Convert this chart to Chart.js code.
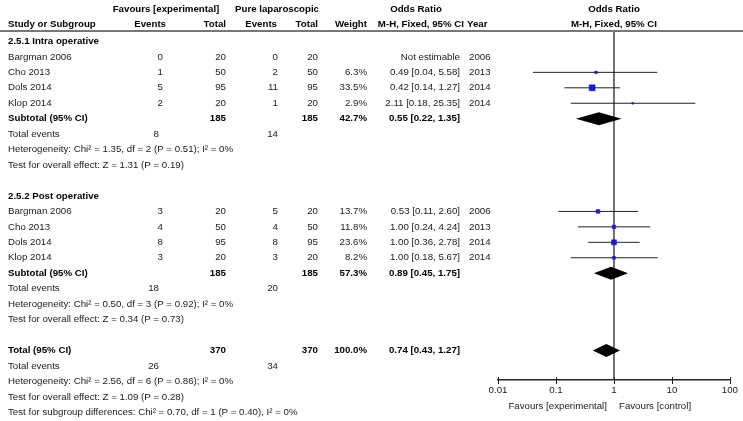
<!DOCTYPE html>
<html>
<head>
<meta charset="utf-8">
<script src="https://cdn.jsdelivr.net/npm/chart.js@4.4.0/dist/chart.umd.min.js"></script>
<style>
  html, body { margin: 0; padding: 0; background: #fff; }
  canvas { display: block; }
</style>
</head>
<body>
<canvas id="forest" width="743" height="421"></canvas>
<script>
const studies = ['Bargman 2006', 'Cho 2013', 'Dols 2014', 'Klop 2014'];
const years = ['2006', '2013', '2014', '2014'];
const groupSizes = [20, 50, 95, 20];

const intraExpEvents = [0, 1, 5, 2];
const intraCtrlEvents = [0, 2, 11, 1];
const intraWeights = [null, 6.3, 33.5, 2.9];
const intraOR = [null, 0.49, 0.42, 2.11];
const intraLow = [null, 0.04, 0.14, 0.18];
const intraHigh = [null, 5.58, 1.27, 25.35];

const postExpEvents = [3, 4, 8, 3];
const postCtrlEvents = [5, 4, 8, 3];
const postWeights = [13.7, 11.8, 23.6, 8.2];
const postOR = [0.53, 1.00, 1.00, 1.00];
const postLow = [0.11, 0.24, 0.36, 0.18];
const postHigh = [2.60, 4.24, 2.78, 5.67];

// pooled rows: intra subtotal, post subtotal, overall total
const pooledOR = [0.55, 0.89, 0.74];
const pooledLow = [0.22, 0.45, 0.43];
const pooledHigh = [1.35, 1.75, 1.27];
const pooledWeights = [42.7, 57.3, 100.0];
const pooledTotals = [185, 185, 370];
const totalExpEvents = [8, 18, 26];
const totalCtrlEvents = [14, 20, 34];
const heterogeneity = [
  'Heterogeneity: Chi² = 1.35, df = 2 (P = 0.51); I² = 0%',
  'Heterogeneity: Chi² = 0.50, df = 3 (P = 0.92); I² = 0%',
  'Heterogeneity: Chi² = 2.56, df = 6 (P = 0.86); I² = 0%'
];
const overallEffect = [
  'Test for overall effect: Z = 1.31 (P = 0.19)',
  'Test for overall effect: Z = 0.34 (P = 0.73)',
  'Test for overall effect: Z = 1.09 (P = 0.28)'
];
const subgroupTest = 'Test for subgroup differences: Chi² = 0.70, df = 1 (P = 0.40), I² = 0%';

const xTicks = [0.01, 0.1, 1, 10, 100];

const groups = [
  {title: '2.5.1 Intra operative', row: 1, exp: intraExpEvents, ctl: intraCtrlEvents,
   w: intraWeights, or: intraOR, lo: intraLow, hi: intraHigh},
  {title: '2.5.2 Post operative', row: 11, exp: postExpEvents, ctl: postCtrlEvents,
   w: postWeights, or: postOR, lo: postLow, hi: postHigh}
];

// column anchors (px)
const COL = {study: 8, expEv: 163, expTot: 226, ctlEv: 278, ctlTot: 318, weight: 367, ci: 460, year: 469};
const FONT = '"Liberation Sans", Arial, sans-serif';
const FSIZE = 9.7;

function fmtCI(o, l, h) {
  return o.toFixed(2) + ' [' + l.toFixed(2) + ', ' + h.toFixed(2) + ']';
}

// datasets: markers first so they sit on top of the CI lines
const markerPts = [];
const markerRadius = [];
const ciSets = [];
groups.forEach(function(g) {
  studies.forEach(function(s, i) {
    if (g.or[i] === null) return;
    const r = g.row + 1 + i;
    markerPts.push({x: g.or[i], y: r});
    markerRadius.push(1.04 * Math.sqrt(g.w[i]) / Math.SQRT2);
    ciSets.push({
      data: [{x: g.lo[i], y: r}, {x: g.hi[i], y: r}],
      showLine: true, borderColor: '#222', borderWidth: 1, pointRadius: 0, clip: false
    });
  });
});

const datasets = [{
  data: markerPts,
  pointStyle: 'rect',
  pointRadius: markerRadius,
  backgroundColor: '#1c1ccc',
  borderColor: '#1c1ccc',
  borderWidth: 0.5
}].concat(ciSets).concat([{
  data: [{x: 1, y: 0.324}, {x: 1, y: 22.91}],
  showLine: true, borderColor: '#444', borderWidth: 1.5, pointRadius: 0, clip: false
}]);

function txt(ctx, s, x, y, align, bold) {
  ctx.font = (bold ? 'bold ' : '') + FSIZE + 'px ' + FONT;
  ctx.textAlign = align;
  ctx.fillStyle = bold ? '#000' : '#1a1a1a';
  ctx.fillText(s, x, y);
}

const tablePlugin = {
  id: 'table',
  afterDraw: function(chart) {
    const ctx = chart.ctx;
    const xs = chart.scales.x;
    const ys = chart.scales.y;
    const Y = function(r) { return ys.getPixelForValue(r); };
    ctx.save();
    ctx.textBaseline = 'middle';

    // header
    txt(ctx, 'Favours [experimental]', 166, Y(-1.1), 'center', true);
    txt(ctx, 'Pure laparoscopic', 235, Y(-1.1), 'left', true);
    txt(ctx, 'Odds Ratio', 416, Y(-1.1), 'center', true);
    txt(ctx, 'Odds Ratio', xs.getPixelForValue(1), Y(-1.1), 'center', true);
    txt(ctx, 'Study or Subgroup', COL.study, Y(-0.13), 'left', true);
    txt(ctx, 'Events', 166, Y(-0.13), 'right', true);
    txt(ctx, 'Total', COL.expTot, Y(-0.13), 'right', true);
    txt(ctx, 'Events', 277, Y(-0.13), 'right', true);
    txt(ctx, 'Total', COL.ctlTot, Y(-0.13), 'right', true);
    txt(ctx, 'Weight', COL.weight, Y(-0.13), 'right', true);
    txt(ctx, 'M-H, Fixed, 95% CI', 464, Y(-0.13), 'right', true);
    txt(ctx, 'Year', 467, Y(-0.13), 'left', true);
    txt(ctx, 'M-H, Fixed, 95% CI', xs.getPixelForValue(1), Y(-0.13), 'center', true);

    ctx.strokeStyle = '#777';
    ctx.lineWidth = 2;
    ctx.beginPath();
    ctx.moveTo(0, chart.chartArea.top);
    ctx.lineTo(743, chart.chartArea.top);
    ctx.stroke();

    function pooled(k, r, label) {
      txt(ctx, label, COL.study, Y(r), 'left', true);
      txt(ctx, String(pooledTotals[k]), COL.expTot, Y(r), 'right', true);
      txt(ctx, String(pooledTotals[k]), COL.ctlTot, Y(r), 'right', true);
      txt(ctx, pooledWeights[k].toFixed(1) + '%', COL.weight, Y(r), 'right', true);
      txt(ctx, fmtCI(pooledOR[k], pooledLow[k], pooledHigh[k]), COL.ci, Y(r), 'right', true);
      txt(ctx, 'Total events', COL.study, Y(r + 1), 'left', false);
      txt(ctx, String(totalExpEvents[k]), 159, Y(r + 1), 'right', false);
      txt(ctx, String(totalCtrlEvents[k]), 278, Y(r + 1), 'right', false);
      txt(ctx, heterogeneity[k], COL.study, Y(r + 2), 'left', false);
      txt(ctx, overallEffect[k], COL.study, Y(r + 3), 'left', false);
      // diamond
      const yc = Y(r), h = 6.5;
      ctx.fillStyle = '#000';
      ctx.beginPath();
      ctx.moveTo(xs.getPixelForValue(pooledLow[k]), yc);
      ctx.lineTo(xs.getPixelForValue(pooledOR[k]), yc - h);
      ctx.lineTo(xs.getPixelForValue(pooledHigh[k]), yc);
      ctx.lineTo(xs.getPixelForValue(pooledOR[k]), yc + h);
      ctx.closePath();
      ctx.fill();
    }

    groups.forEach(function(g, k) {
      txt(ctx, g.title, COL.study, Y(g.row), 'left', true);
      studies.forEach(function(s, i) {
        const y = Y(g.row + 1 + i);
        txt(ctx, s, COL.study, y, 'left', false);
        txt(ctx, String(g.exp[i]), COL.expEv, y, 'right', false);
        txt(ctx, String(groupSizes[i]), COL.expTot, y, 'right', false);
        txt(ctx, String(g.ctl[i]), COL.ctlEv, y, 'right', false);
        txt(ctx, String(groupSizes[i]), COL.ctlTot, y, 'right', false);
        if (g.or[i] === null) {
          txt(ctx, 'Not estimable', COL.ci, y, 'right', false);
        } else {
          txt(ctx, g.w[i].toFixed(1) + '%', COL.weight, y, 'right', false);
          txt(ctx, fmtCI(g.or[i], g.lo[i], g.hi[i]), COL.ci, y, 'right', false);
        }
        txt(ctx, years[i], COL.year, y, 'left', false);
      });
      pooled(k, g.row + 5, 'Subtotal (95% CI)');
    });
    pooled(2, 21, 'Total (95% CI)');
    txt(ctx, subgroupTest, COL.study, Y(25), 'left', false);

    // axis tick marks crossing the axis line
    const yb = chart.chartArea.bottom;
    ctx.strokeStyle = '#222';
    ctx.lineWidth = 1;
    xs.ticks.forEach(function(t) {
      const px = Math.round(xs.getPixelForValue(t.value)) + 0.5;
      ctx.beginPath();
      ctx.moveTo(px, yb - 3);
      ctx.lineTo(px, yb + 4);
      ctx.stroke();
    });
    const p1 = xs.getPixelForValue(1);
    txt(ctx, 'Favours [experimental]', p1 - 7, 406, 'right', false);
    txt(ctx, 'Favours [control]', p1 + 5, 406, 'left', false);
    ctx.restore();
  }
};

new Chart(document.getElementById('forest'), {
  type: 'scatter',
  data: {datasets: datasets},
  options: {
    responsive: false,
    animation: false,
    events: [],
    layout: {padding: {left: 498, right: 9, top: 31, bottom: 1}},
    plugins: {legend: {display: false}, tooltip: {enabled: false}},
    scales: {
      x: {
        type: 'logarithmic',
        min: 0.01,
        max: 100,
        afterBuildTicks: function(s) {
          s.ticks = xTicks.map(function(v) { return {value: v}; });
        },
        afterFit: function(s) { s.height = 40; },
        ticks: {
          autoSkip: false,
          maxRotation: 0,
          padding: 5,
          color: '#1a1a1a',
          font: {family: FONT, size: FSIZE},
          callback: function(v) { return String(v); }
        },
        grid: {display: false, drawTicks: false},
        border: {display: true, color: '#222', width: 1.5}
      },
      y: {
        type: 'linear',
        display: false,
        reverse: true,
        min: 0.324,
        max: 22.91
      }
    }
  },
  plugins: [tablePlugin]
});
</script>
</body>
</html>
